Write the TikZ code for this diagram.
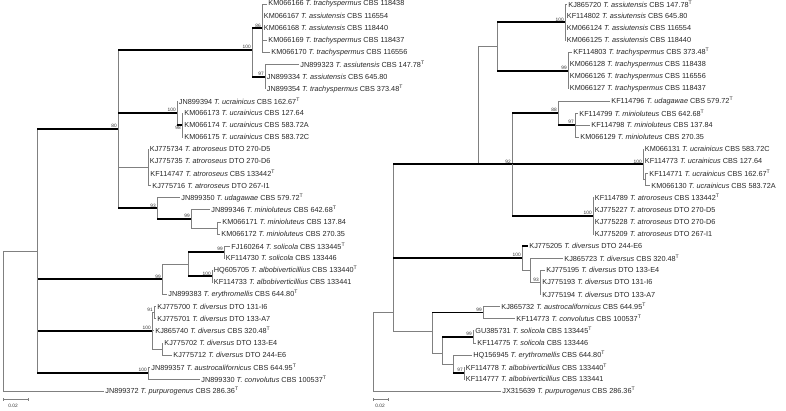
\documentclass[tikz,border=0pt]{standalone}
\usepackage{fontspec}
\setmainfont{Liberation Sans}
\newcommand\Tsp[1]{\textit{T. #1}}
\newcommand\Ty{\textsuperscript{T}}
\tikzset{
  thinbr/.style={draw=black!50, line width=0.6pt},
  thickbr/.style={draw=black, line width=1.8pt},
  lf/.style={anchor=west, inner xsep=1.2pt, inner ysep=0pt, font=\fontsize{7.3}{8}\selectfont, text=black!85},
  bs/.style={inner sep=0.3pt, font=\fontsize{4.8}{5}\selectfont, text=black!80},
}
\newcommand\Edge[2]{\draw[thinbr] (#1) |- (#2);}
\newcommand\TEdge[2]{\draw[thinbr] (#1) -- (#1 |- #2); \draw[thickbr] (#1 |- #2) -- (#2);}
\newcommand\Leaf[3]{\coordinate (#1) at (#2); \node[lf] (#1t) at (#1) {#3};}
\newcommand\BS[2]{\node[bs, anchor=south east] (#1b) at ([xshift=-0.8pt,yshift=0.6pt]#1) {#2};}
\newcommand\BSb[2]{\node[bs, anchor=north east] (#1b) at ([xshift=-0.8pt,yshift=-0.8pt]#1) {#2};}
\begin{document}
\begin{tikzpicture}[x=1pt,y=-1pt]
\useasboundingbox (0,0) rectangle (786,410);
% ================= LEFT TREE =================
\Leaf{l1}{267,4.0}{KM066166 \Tsp{trachyspermus} CBS 118438}
\Leaf{l2}{262.5,16.1}{KM066167 \Tsp{assiutensis} CBS 116554}
\Leaf{l3}{262.5,28.2}{KM066168 \Tsp{assiutensis} CBS 118440}
\Leaf{l4}{267,40.3}{KM066169 \Tsp{trachyspermus} CBS 118437}
\Leaf{l5}{270,52.4}{KM066170 \Tsp{trachyspermus} CBS 116556}
\Leaf{l6}{299,64.5}{JN899323 \Tsp{assiutensis} CBS 147.78\Ty}
\Leaf{l7}{265.5,76.6}{JN899334 \Tsp{assiutensis} CBS 645.80}
\Leaf{l8}{265.5,88.7}{JN899354 \Tsp{trachyspermus} CBS 373.48\Ty}
\Leaf{l9}{177.5,100.8}{JN899394 \Tsp{ucrainicus} CBS 162.67\Ty}
\Leaf{l10}{183,112.9}{KM066173 \Tsp{ucrainicus} CBS 127.64}
\Leaf{l11}{183,125.0}{KM066174 \Tsp{ucrainicus} CBS 583.72A}
\Leaf{l12}{183,137.1}{KM066175 \Tsp{ucrainicus} CBS 583.72C}
\Leaf{l13}{148.5,149.2}{KJ775734 \Tsp{atroroseus} DTO 270-D5}
\Leaf{l14}{148.5,161.3}{KJ775735 \Tsp{atroroseus} DTO 270-D6}
\Leaf{l15}{149,173.4}{KF114747 \Tsp{atroroseus} CBS 133442\Ty}
\Leaf{l16}{151,185.5}{KJ775716 \Tsp{atroroseus} DTO 267-I1}
\Leaf{l17}{180,197.6}{JN899350 \Tsp{udagawae} CBS 579.72\Ty}
\Leaf{l18}{210,209.7}{JN899346 \Tsp{minioluteus} CBS 642.68\Ty}
\Leaf{l19}{221,221.8}{KM066171 \Tsp{minioluteus} CBS 137.84}
\Leaf{l20}{220,233.9}{KM066172 \Tsp{minioluteus} CBS 270.35}
\Leaf{l21}{230,246.0}{FJ160264 \Tsp{solicola} CBS 133445\Ty}
\Leaf{l22}{224.5,258.1}{KF114730 \Tsp{solicola} CBS 133446}
\Leaf{l23}{212.5,270.2}{HQ605705 \Tsp{albobiverticillius} CBS 133440\Ty}
\Leaf{l24}{212.5,282.3}{KF114733 \Tsp{albobiverticillius} CBS 133441}
\Leaf{l25}{167,294.4}{JN899383 \Tsp{erythromellis} CBS 644.80\Ty}
\Leaf{l26}{156,306.5}{KJ775700 \Tsp{diversus} DTO 131-I6}
\Leaf{l27}{156,318.6}{KJ775701 \Tsp{diversus} DTO 133-A7}
\Leaf{l28}{154,330.7}{KJ865740 \Tsp{diversus} CBS 320.48\Ty}
\Leaf{l29}{163,342.8}{KJ775702 \Tsp{diversus} DTO 133-E4}
\Leaf{l30}{172,354.9}{KJ775712 \Tsp{diversus} DTO 244-E6}
\Leaf{l31}{150,367.0}{JN899357 \Tsp{austrocalifornicus} CBS 644.95\Ty}
\Leaf{l32}{200,379.1}{JN899330 \Tsp{convolutus} CBS 100537\Ty}
\Leaf{l33}{104,391.2}{JN899372 \Tsp{purpurogenus} CBS 286.36\Ty}
% internal nodes
\coordinate (a86) at (262,28.2);
\coordinate (a97) at (265,76.6);
\coordinate (a100) at (252,50.0);
\coordinate (u98) at (182,125.0);
\coordinate (u100) at (177,112.9);
\coordinate (c80) at (118,129.1);
\coordinate (atr) at (148,167.3);
\coordinate (m2) at (217,227.9);
\coordinate (m99) at (191,218.8);
\coordinate (n93) at (157,208.2);
\coordinate (sol) at (224,252.1);
\coordinate (alb) at (212,276.2);
\coordinate (sa) at (188,264.2);
\coordinate (e99) at (162,279.3);
\coordinate (d91) at (154,312.5);
\coordinate (d2) at (162,348.9);
\coordinate (d100) at (152,330.7);
\coordinate (ac) at (148,373.0);
\coordinate (ing) at (37,251.0);
\coordinate (root) at (3,321.1);
% edges
\foreach \c in {l1,l2,l3,l4,l5} {\Edge{a86}{\c}}
\foreach \c in {l6,l7,l8} {\Edge{a97}{\c}}
\TEdge{a100}{a86} \TEdge{a100}{a97}
\foreach \c in {l10,l11,l12} {\Edge{u98}{\c}}
\Edge{u100}{l9} \TEdge{u100}{u98}
\foreach \c in {l13,l14,l15,l16} {\Edge{atr}{\c}}
\Edge{m2}{l19} \Edge{m2}{l20}
\Edge{m99}{l18} \Edge{m99}{m2}
\Edge{n93}{l17} \TEdge{n93}{m99}
\TEdge{c80}{a100} \TEdge{c80}{u100} \Edge{c80}{atr} \TEdge{c80}{n93}
\Edge{sol}{l21} \Edge{sol}{l22}
\Edge{alb}{l23} \Edge{alb}{l24}
\TEdge{sa}{sol} \TEdge{sa}{alb}
\Edge{e99}{sa} \Edge{e99}{l25}
\Edge{d91}{l26} \Edge{d91}{l27}
\Edge{d2}{l29} \Edge{d2}{l30}
\Edge{d100}{d91} \Edge{d100}{l28} \Edge{d100}{d2}
\Edge{ac}{l31} \Edge{ac}{l32}
\TEdge{ing}{c80} \TEdge{ing}{e99} \TEdge{ing}{d100} \TEdge{ing}{ac}
\Edge{root}{ing} \Edge{root}{l33}
% bootstrap
\BS{a86}{86} \BS{a100}{100} \BS{a97}{97} \BS{u100}{100} \BSb{u98}{98}
\BS{c80}{80} \BS{n93}{93} \BS{m99}{99} \BS{sol}{99} \BS{alb}{100} \BS{e99}{99}
\BS{d91}{91} \BS{d100}{100} \BS{ac}{100}
% scale bar
\coordinate (sbl1) at (3,399.5); \coordinate (sbl2) at (28,399.5);
\draw[thinbr] (sbl1) -- (sbl2);
\draw[thinbr] ([yshift=1.2pt]sbl1) -- ([yshift=-1.2pt]sbl1);
\draw[thinbr] ([yshift=1.2pt]sbl2) -- ([yshift=-1.2pt]sbl2);
\node[bs] (sblt) at (13,406) {0.02};
% ================= RIGHT TREE =================
\Leaf{r1}{567,4.0}{KJ865720 \Tsp{assiutensis} CBS 147.78\Ty}
\Leaf{r2}{565.5,16.1}{KF114802 \Tsp{assiutensis} CBS 645.80}
\Leaf{r3}{565.5,28.2}{KM066124 \Tsp{assiutensis} CBS 116554}
\Leaf{r4}{565.5,40.3}{KM066125 \Tsp{assiutensis} CBS 118440}
\Leaf{r5}{572,52.4}{KF114803 \Tsp{trachyspermus} CBS 373.48\Ty}
\Leaf{r6}{568.5,64.5}{KM066128 \Tsp{trachyspermus} CBS 118438}
\Leaf{r7}{568.5,76.6}{KM066126 \Tsp{trachyspermus} CBS 116556}
\Leaf{r8}{568.5,88.7}{KM066127 \Tsp{trachyspermus} CBS 118437}
\Leaf{r9}{610,100.8}{KF114796 \Tsp{udagawae} CBS 579.72\Ty}
\Leaf{r10}{578,112.9}{KF114799 \Tsp{minioluteus} CBS 642.68\Ty}
\Leaf{r11}{590,125.0}{KF114798 \Tsp{minioluteus} CBS 137.84}
\Leaf{r12}{579,137.1}{KM066129 \Tsp{minioluteus} CBS 270.35}
\Leaf{r13}{643.5,149.2}{KM066131 \Tsp{ucrainicus} CBS 583.72C}
\Leaf{r14}{643.5,161.3}{KF114773 \Tsp{ucrainicus} CBS 127.64}
\Leaf{r15}{648,173.4}{KF114771 \Tsp{ucrainicus} CBS 162.67\Ty}
\Leaf{r16}{650,185.5}{KM066130 \Tsp{ucrainicus} CBS 583.72A}
\Leaf{r17}{593.5,197.6}{KF114789 \Tsp{atroroseus} CBS 133442\Ty}
\Leaf{r18}{593.5,209.7}{KJ775227 \Tsp{atroroseus} DTO 270-D5}
\Leaf{r19}{593.5,221.8}{KJ775228 \Tsp{atroroseus} DTO 270-D6}
\Leaf{r20}{593.5,233.9}{KJ775209 \Tsp{atroroseus} DTO 267-I1}
\Leaf{r21}{528,246.0}{KJ775205 \Tsp{diversus} DTO 244-E6}
\Leaf{r22}{563,258.1}{KJ865723 \Tsp{diversus} CBS 320.48\Ty}
\Leaf{r23}{545,270.2}{KJ775195 \Tsp{diversus} DTO 133-E4}
\Leaf{r24}{541,282.3}{KJ775193 \Tsp{diversus} DTO 131-I6}
\Leaf{r25}{541,294.4}{KJ775194 \Tsp{diversus} DTO 133-A7}
\Leaf{r26}{500,306.5}{KJ865732 \Tsp{austrocalifornicus} CBS 644.95\Ty}
\Leaf{r27}{515,318.6}{KF114773 \Tsp{convolutus} CBS 100537\Ty}
\Leaf{r28}{474,330.7}{GU385731 \Tsp{solicola} CBS 133445\Ty}
\Leaf{r29}{476,342.8}{KF114775 \Tsp{solicola} CBS 133446}
\Leaf{r30}{472,354.9}{HQ156945 \Tsp{erythromellis} CBS 644.80\Ty}
\Leaf{r31}{464.5,367.0}{KF114778 \Tsp{albobiverticillius} CBS 133440\Ty}
\Leaf{r32}{464.5,379.1}{KF114777 \Tsp{albobiverticillius} CBS 133441}
\Leaf{r33}{501,391.2}{JX315639 \Tsp{purpurogenus} CBS 286.36\Ty}
% internal nodes
\coordinate (ras) at (565,22.2);
\coordinate (rtr) at (568,70.6);
\coordinate (rat) at (497,46.4);
\coordinate (rm97) at (575,125.0);
\coordinate (rum) at (558,112.9);
\coordinate (ruc2) at (645,179.5);
\coordinate (ruc) at (643,164.3);
\coordinate (ratr) at (593,215.8);
\coordinate (r92) at (512,164.3);
\coordinate (rj) at (478,164.3);
\coordinate (rd93) at (540,282.3);
\coordinate (rd2) at (530,270.2);
\coordinate (rd100) at (522,258.1);
\coordinate (rac) at (483,312.5);
\coordinate (rsol) at (473,336.8);
\coordinate (ralb) at (464,373.0);
\coordinate (rea) at (453,364.0);
\coordinate (rsea) at (442,353.0);
\coordinate (rg) at (432,331.5);
\coordinate (ring) at (393,312.0);
\coordinate (rroot) at (373,351.6);
% edges
\foreach \c in {r1,r2,r3,r4} {\Edge{ras}{\c}}
\foreach \c in {r5,r6,r7,r8} {\Edge{rtr}{\c}}
\TEdge{rat}{ras} \TEdge{rat}{rtr}
\foreach \c in {r10,r11,r12} {\Edge{rm97}{\c}}
\Edge{rum}{r9} \TEdge{rum}{rm97}
\Edge{ruc2}{r15} \Edge{ruc2}{r16}
\Edge{ruc}{r13} \Edge{ruc}{r14} \Edge{ruc}{ruc2}
\foreach \c in {r17,r18,r19,r20} {\Edge{ratr}{\c}}
\TEdge{r92}{rum} \TEdge{r92}{ruc} \TEdge{r92}{ratr}
\Edge{rj}{rat} \TEdge{rj}{r92}
\foreach \c in {r23,r24,r25} {\Edge{rd93}{\c}}
\Edge{rd2}{r22} \Edge{rd2}{rd93}
\TEdge{rd100}{r21} \Edge{rd100}{rd2}
\Edge{rac}{r26} \Edge{rac}{r27}
\Edge{rsol}{r28} \Edge{rsol}{r29}
\Edge{ralb}{r31} \Edge{ralb}{r32}
\Edge{rea}{r30} \TEdge{rea}{ralb}
\TEdge{rsea}{rsol} \Edge{rsea}{rea}
\TEdge{rg}{rac} \Edge{rg}{rsea}
\TEdge{ring}{rj} \TEdge{ring}{rd100} \Edge{ring}{rg}
\Edge{rroot}{ring} \Edge{rroot}{r33}
% bootstrap
\BS{ras}{100} \BS{rtr}{99} \BS{rum}{88} \BS{rm97}{97} \BS{ruc}{100} \BS{ratr}{100}
\BS{r92}{92} \BS{rd100}{100} \BS{rd93}{93} \BS{rac}{99} \BS{rsol}{99} \BS{ralb}{97}
% scale bar
\coordinate (sbr1) at (373,399.5); \coordinate (sbr2) at (388,399.5);
\draw[thinbr] (sbr1) -- (sbr2);
\draw[thinbr] ([yshift=1.2pt]sbr1) -- ([yshift=-1.2pt]sbr1);
\draw[thinbr] ([yshift=1.2pt]sbr2) -- ([yshift=-1.2pt]sbr2);
\node[bs] (sbrt) at (380,406) {0.02};
\end{tikzpicture}
\end{document}
